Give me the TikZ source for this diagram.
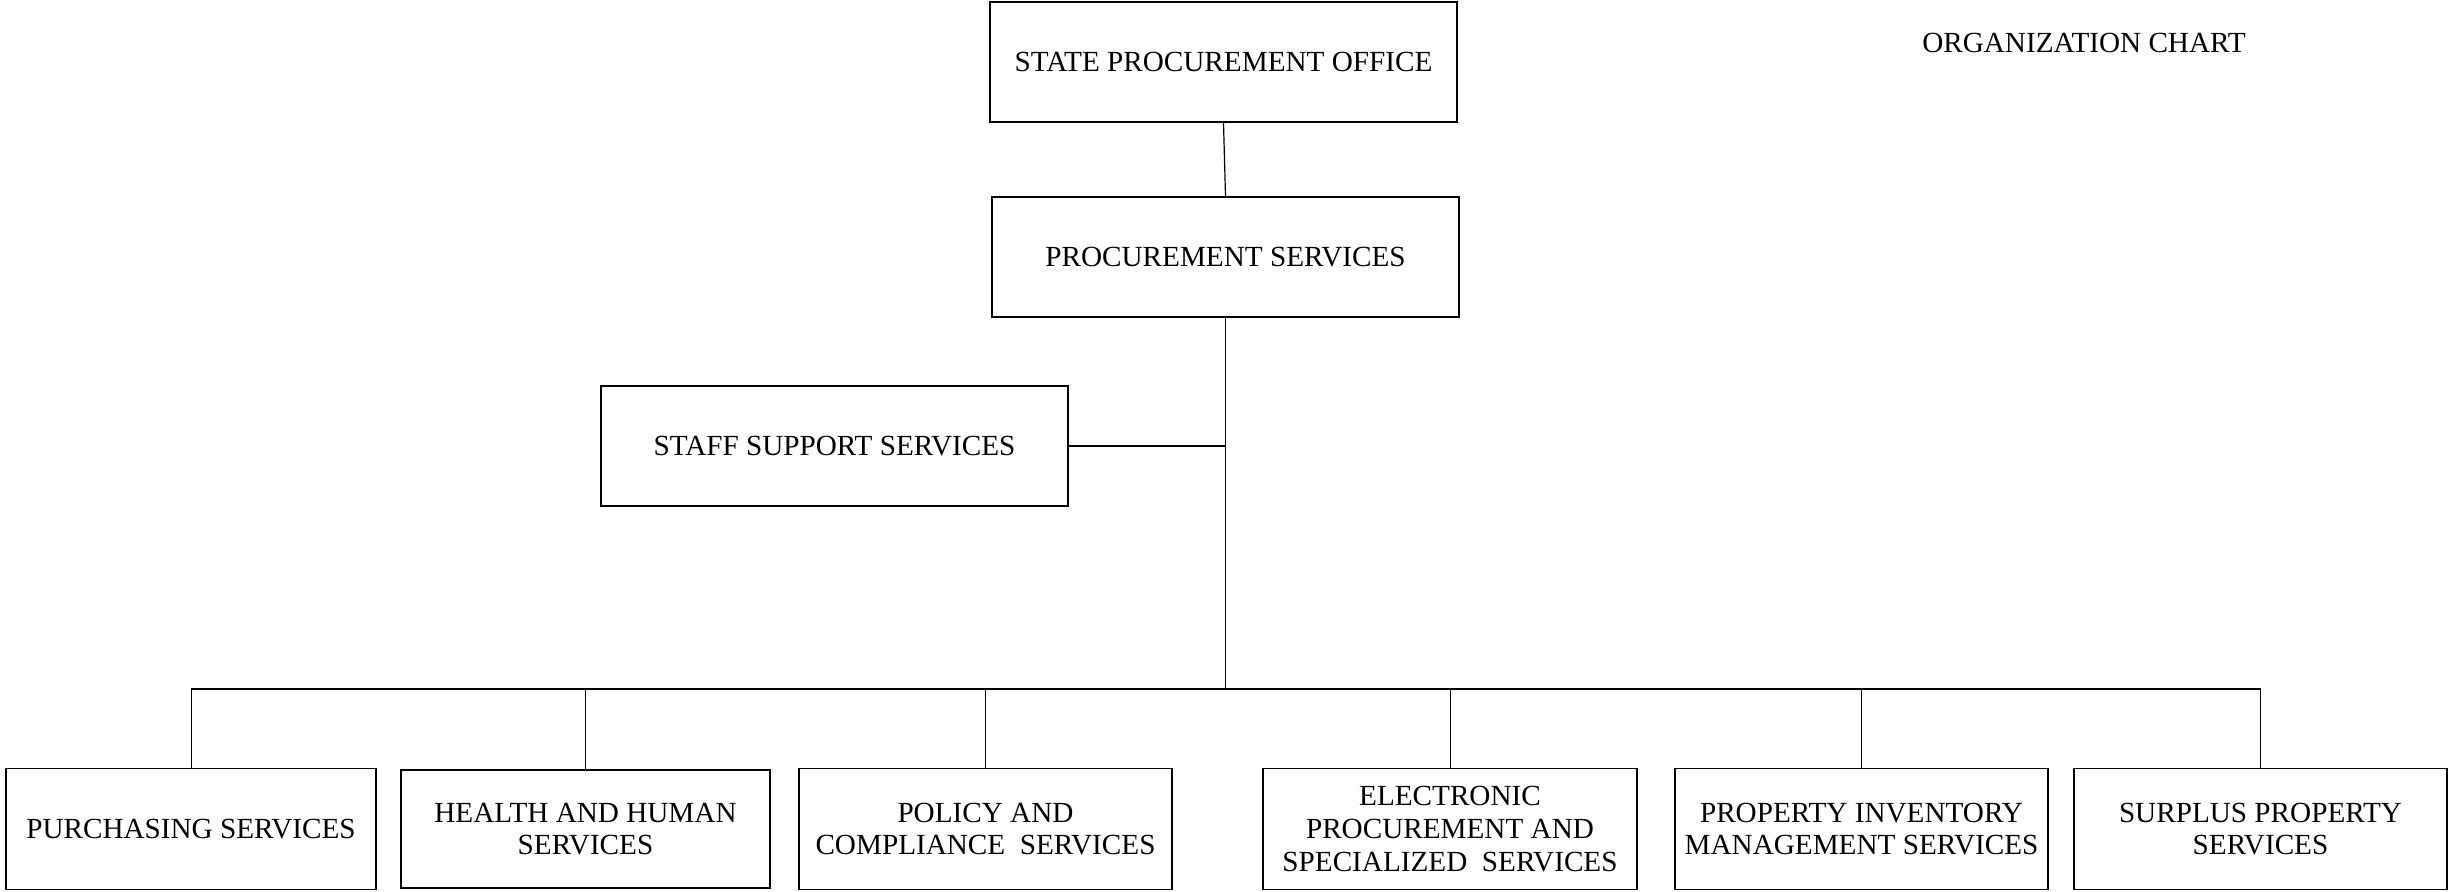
\documentclass[tikz,border=0pt]{standalone}
\usepackage{fontspec}
\setmainfont{Liberation Serif}
\tikzset{
  orgbox/.style={draw, line width=0.7pt, inner sep=0pt, align=center,
    minimum height=60pt, font=\fontsize{14.6}{16.4}\selectfont},
  unitbox/.style={orgbox, minimum height=60.5pt},
}

\begin{document}
\begin{tikzpicture}[x=0.5pt,y=-0.5pt,line width=0.6pt]
      \useasboundingbox (0,0) rectangle (2449,891);

      \node[orgbox, minimum width=233.5pt] (spo) at (1223.5,62) {STATE PROCUREMENT OFFICE};
      \node[orgbox, minimum width=233.5pt] (ps) at (1225.5,257) {PROCUREMENT SERVICES};
      \node[orgbox, minimum width=233.5pt] (staff) at (834.5,446) {STAFF SUPPORT SERVICES};
      \node[font=\fontsize{14.6}{16.4}\selectfont] (title) at (2084,43) {ORGANIZATION CHART};

      \node[unitbox, minimum width=185pt] (purch) at (191,829) {PURCHASING SERVICES};
      \node[unitbox, minimum width=184.5pt, minimum height=59pt] (health) at (585.5,829) {HEALTH AND HUMAN\\SERVICES};
      \node[unitbox, minimum width=186.5pt] (policy) at (985.5,829) {POLICY AND\\COMPLIANCE\ \ SERVICES};
      \node[unitbox, minimum width=187pt] (elec) at (1450,829) {ELECTRONIC\\PROCUREMENT AND\\SPECIALIZED\ \ SERVICES};
      \node[unitbox, minimum width=186.5pt] (prop) at (1861.5,829) {PROPERTY INVENTORY\\MANAGEMENT SERVICES};
      \node[unitbox, minimum width=186.5pt] (surplus) at (2260.5,829) {SURPLUS PROPERTY\\SERVICES};

      \coordinate (bus) at (1224,689);

      \draw (spo.south) -- (ps.north);
      \draw (ps.south) -- (ps.south |- bus);
      \draw (staff.east) -- (staff.east -| ps.south);
      \draw[line width=0.7pt] (purch.north |- bus) -- (surplus.north |- bus);
      \foreach \unit in {purch,health,policy,elec,prop,surplus}
        \draw[line width=0.5pt] (\unit.north) -- (\unit.north |- bus);
    \end{tikzpicture}
\end{document}
